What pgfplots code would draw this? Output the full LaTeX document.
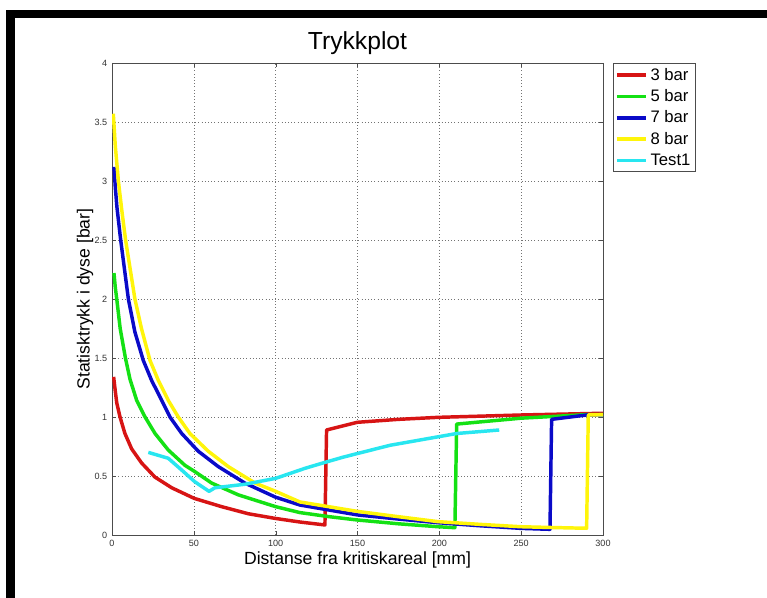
\documentclass[border=0pt]{standalone}
\usepackage{fontspec}
\setmainfont{Liberation Sans}
\usepackage{pgfplots}
\pgfplotsset{compat=1.18}

\definecolor{cRed}{RGB}{215,20,20}
\definecolor{cGreen}{RGB}{20,225,20}
\definecolor{cBlue}{RGB}{10,10,200}
\definecolor{cYellow}{RGB}{255,245,10}
\definecolor{cCyan}{RGB}{40,230,240}

\begin{document}
\begin{tikzpicture}[x=0.75pt,y=0.75pt]
\fill[white] (0,0) rectangle (767,598);
\useasboundingbox (0,0) rectangle (767,598);
% frame left over from the screenshot
\fill[black] (6,580) rectangle (767,588);
\fill[black] (6,0) rectangle (15,588);

\begin{axis}[
    at={(84pt,47.25pt)}, anchor=south west,
    scale only axis, width=368.25pt, height=354pt,
    xmin=0, xmax=300, ymin=0, ymax=4,
    xtick={0,50,...,300}, ytick={0,0.5,...,4},
    /pgf/number format/assume math mode=true,
    ticklabel style={font=\fontsize{6.8}{8}\selectfont, text=black!80},
    tick align=inside, major tick length=3pt,
    tick style={black!70},
    axis line style={black!70},
    grid=major, major grid style={dotted, black!55},
    title={Trykkplot},
    title style={font=\fontsize{18.5}{21}\selectfont, at={(axis description cs:0.5,1.026)}, anchor=center},
    xlabel={Distanse fra kritiskareal [mm]},
    xlabel style={font=\fontsize{13.2}{15}\selectfont, at={(axis description cs:0.5,-0.053)}, anchor=center},
    ylabel={Statisktrykk i dyse [bar]},
    ylabel style={font=\fontsize{13.2}{15}\selectfont, at={(axis description cs:-0.055,0.5)}, anchor=center},
    legend style={at={(1.02,1)}, anchor=north west, font=\fontsize{12.5}{14}\selectfont,
        draw=black!70, inner sep=1.5pt, row sep=1.5pt, cells={anchor=west}},
    legend image code/.code={\draw[#1] (0pt,0pt) -- (22pt,0pt);},
    every axis plot/.append style={line width=2.6pt, line join=round},
]
\addplot[cRed] coordinates {
 (1,1.34) (2,1.22) (2.9,1.12) (4.9,1.0) (7.9,0.86) (12,0.73) (18.1,0.61)
 (26.3,0.49) (36.5,0.40) (50.3,0.31) (67,0.24) (83.3,0.18) (100,0.14)
 (114.8,0.11) (130.1,0.085) (131.1,0.89) (149.9,0.955) (175,0.98)
 (199.3,0.997) (250,1.017) (294,1.03) (300,1.03)};
\addlegendentry{3 bar}
\addplot[cGreen] coordinates {
 (1.2,2.22) (2,2.1) (2.9,2.0) (5,1.75) (8.2,1.5) (11,1.32) (15.1,1.14)
 (20.2,1.0) (26.3,0.86) (34.4,0.72) (44.6,0.59) (50.3,0.54) (60.9,0.44)
 (77.2,0.34) (100,0.24) (114.8,0.19) (132.8,0.155) (150,0.127) (175,0.095)
 (199.3,0.07) (209.5,0.062) (210.6,0.94) (250,0.99) (290,1.02) (300,1.02)};
\addlegendentry{5 bar}
\addplot[cBlue] coordinates {
 (1.2,3.12) (2,2.95) (3,2.78) (5.3,2.5) (10,2.0) (14,1.72) (19.1,1.48)
 (24.2,1.31) (30.4,1.14) (35.4,1.0) (42.6,0.86) (52.7,0.71) (64.9,0.58)
 (81.2,0.44) (100,0.32) (114.8,0.254) (150,0.17) (175,0.135) (199.3,0.104)
 (225,0.078) (250,0.056) (267.6,0.048) (268.6,0.98) (290,1.017) (300,1.02)};
\addlegendentry{7 bar}
\addplot[cYellow] coordinates {
 (0.8,3.57) (2,3.3) (3.9,3.0) (6,2.75) (8.3,2.5) (14,2.0) (18,1.75)
 (23.2,1.48) (28.3,1.31) (34.4,1.14) (40.5,1.0) (47.6,0.86) (58.8,0.71)
 (71,0.58) (87.4,0.44) (100,0.37) (114.8,0.28) (150,0.2) (175,0.155)
 (199.3,0.113) (225,0.09) (250,0.07) (270,0.063) (290,0.057) (291,1.017)
 (300,1.02)};
\addlegendentry{8 bar}
\addplot[cCyan] coordinates {
 (22.2,0.70) (34.4,0.65) (42.6,0.55) (50.7,0.45) (59.3,0.37) (62.9,0.40)
 (81.2,0.43) (100,0.48) (117.9,0.565) (128.8,0.61) (141.3,0.66)
 (169.8,0.76) (210.6,0.86) (236.6,0.89)};
\addlegendentry{Test1}
\end{axis}
\end{tikzpicture}
\end{document}
